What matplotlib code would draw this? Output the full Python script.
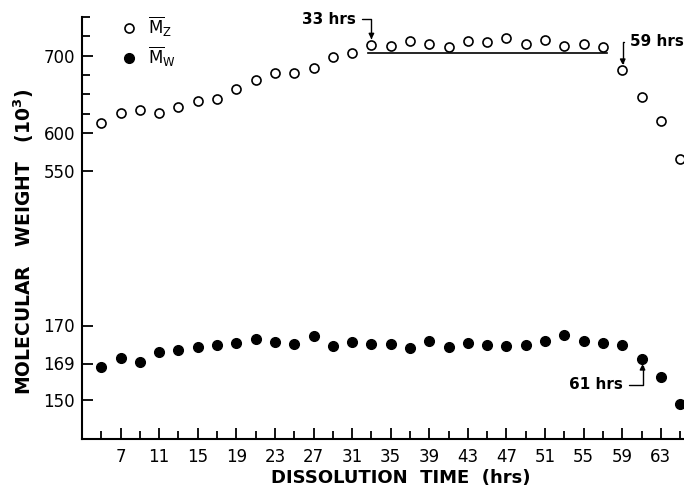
import numpy as np
import matplotlib
matplotlib.use("Agg")
import matplotlib.pyplot as plt
from matplotlib.ticker import FixedLocator

hours = [5, 7, 9, 11, 13, 15, 17, 19, 21, 23, 25, 27, 29, 31, 33, 35,
         37, 39, 41, 43, 45, 47, 49, 51, 53, 55, 57, 59, 61, 63, 65]
mz = [612.9, 626.5, 630.0, 626.5, 634.3, 641.6, 643.8, 657.1, 668.7, 678.1,
      678.1, 684.5, 698.7, 703.9, 713.8, 712.5, 718.9, 714.7, 711.2, 719.3,
      717.3, 723.2, 715.5, 720.2, 712.1, 714.7, 711.2, 681.2, 647.2, 615.5,
      566.4]
mw = [167.3, 169.15, 169.05, 169.29, 169.36, 169.43, 169.49, 169.55, 169.64,
      169.57, 169.51, 169.72, 169.47, 169.57, 169.51, 169.51, 169.40, 169.60,
      169.44, 169.53, 169.48, 169.46, 169.49, 169.58, 169.74, 169.58, 169.53,
      169.49, 169.12, 161.8, 148.0]
plateau_x = [32.6, 57.4]
plateau_y = 703.1

ytick_vals = [150, 169, 170, 550, 600, 700]
yminor_vals = [625, 650, 675, 725, 750]
xtick_vals = list(range(7, 64, 4))
xminor_vals = list(range(5, 66, 4))

# broken / non-linear y axis of the original figure
scale_vals = [130, 150, 169, 170, 550, 600, 700, 750]
scale_pos = [0, 39.3, 75.8, 113.8, 267.8, 306, 383.6, 422.6]


def fwd(v):
    return np.interp(v, scale_vals, scale_pos)


def inv(p):
    return np.interp(p, scale_pos, scale_vals)


fig = plt.figure(figsize=(6.84, 4.9), dpi=100)
ax = fig.add_axes([82 / 684, 50.7 / 490, 602 / 684, 422.6 / 490])
ax.set_yscale("function", functions=(fwd, inv))
ax.set_xlim(3, 65.4)
ax.set_ylim(130, 750)

ax.plot(hours, mz, "o", mfc="white", mec="black", mew=1.2, ms=6.5,
        label=r"$\overline{\mathrm{M}}_{\mathrm{Z}}$")
ax.plot(hours, mw, "o", mfc="black", mec="black", ms=7,
        label=r"$\overline{\mathrm{M}}_{\mathrm{W}}$")
ax.plot(plateau_x, [plateau_y, plateau_y], color="black", lw=1.2)

for s in ["top", "right"]:
    ax.spines[s].set_visible(False)
for s in ["left", "bottom"]:
    ax.spines[s].set_linewidth(1.5)

ax.yaxis.set_major_locator(FixedLocator(ytick_vals))
ax.yaxis.set_minor_locator(FixedLocator(yminor_vals))
ax.xaxis.set_major_locator(FixedLocator(xtick_vals))
ax.xaxis.set_minor_locator(FixedLocator(xminor_vals))
ax.set_yticklabels([str(v) for v in ytick_vals])
ax.set_xticklabels([str(v) for v in xtick_vals])
ax.tick_params(which="major", direction="in", length=8, width=1.3,
               labelsize=12, pad=5)
ax.tick_params(which="minor", direction="in", length=6, width=1.3)
ax.tick_params(axis="x", which="major", pad=6)

ax.set_xlabel("DISSOLUTION  TIME  (hrs)", fontsize=13, fontweight="bold")
ax.set_ylabel(r"MOLECULAR   WEIGHT   (10$^{\mathbf{3}}$)", fontsize=13.5,
              fontweight="bold")
ax.xaxis.set_label_coords(0.53, -0.07)
ax.yaxis.set_label_coords(-0.077, 0.467)

arrow = dict(arrowstyle="-|>", color="black", lw=1.0, mutation_scale=8,
             shrinkA=2, shrinkB=0,
             connectionstyle="angle,angleA=0,angleB=90,rad=0")
ax.annotate("33 hrs", xy=(33, 721), xytext=(31.4, 747), ha="right",
            va="center", fontsize=11, fontweight="bold", arrowprops=arrow)
ax.annotate("59 hrs", xy=(59.05, 688), xytext=(59.8, 717.7), ha="left",
            va="center", fontsize=11, fontweight="bold", arrowprops=arrow)
ax.annotate("61 hrs", xy=(61.1, 168.75), xytext=(59.1, 157.9), ha="right",
            va="center", fontsize=11, fontweight="bold", arrowprops=arrow)

ax.legend(loc="upper left", bbox_to_anchor=(0.04, 1.04), frameon=False,
          numpoints=1, handlelength=1.0, handletextpad=0.6,
          labelspacing=0.35, fontsize=12)

fig.savefig("out.png", dpi=100)
